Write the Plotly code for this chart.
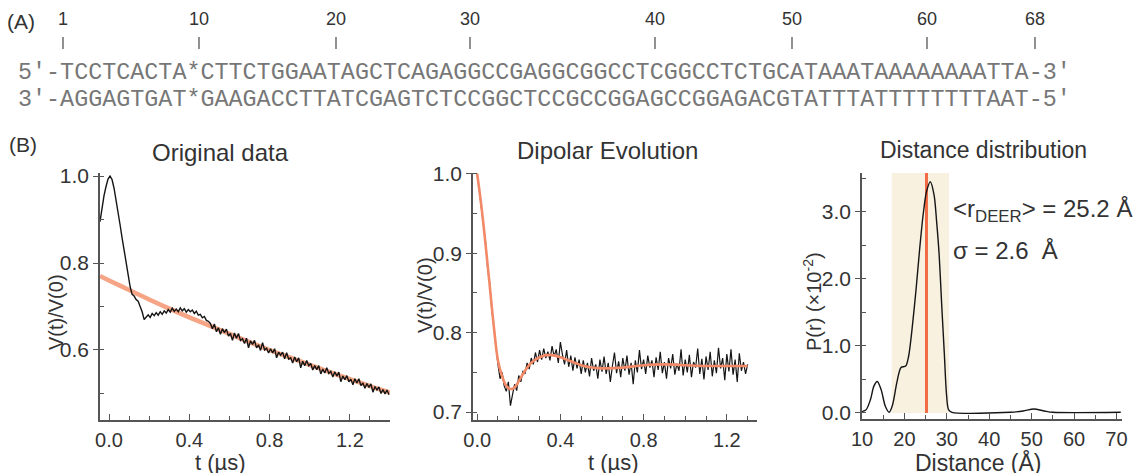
import plotly.graph_objects as go

W, H = 1133, 473

# ---------------- (A) DNA sequence ----------------
strand_top = "5'-TCCTCACTA*CTTCTGGAATAGCTCAGAGGCCGAGGCGGCCTCGGCCTCTGCATAAATAAAAAAAATTA-3'"
strand_bottom = "3'-AGGAGTGAT*GAAGACCTTATCGAGTCTCCGGCTCCGCCGGAGCCGGAGACGTATTTATTTTTTTTAAT-5'"
position_labels = ["1", "10", "20", "30", "40", "50", "60", "68"]

# ---------------- (B) Original data ----------------
orig_t0, orig_dt = -0.045, 0.01
orig_v = [
    0.895, 0.930, 0.955, 0.976, 0.993, 1.000, 0.992, 0.972, 0.946, 0.918,
    0.888, 0.858, 0.828, 0.800, 0.775, 0.746, 0.728, 0.724, 0.716, 0.712,
    0.700, 0.688, 0.670, 0.676, 0.681, 0.675, 0.684, 0.679, 0.686, 0.680,
    0.688, 0.682, 0.690, 0.685, 0.693, 0.687, 0.696, 0.689, 0.694, 0.688,
    0.697, 0.690, 0.695, 0.687, 0.693, 0.688, 0.692, 0.684, 0.689, 0.680,
    0.682, 0.674, 0.677, 0.668, 0.666,
    0.661, 0.649, 0.660, 0.642, 0.651, 0.636, 0.649, 0.640, 0.648, 0.632,
    0.638, 0.622, 0.639, 0.627, 0.638, 0.622, 0.626, 0.615, 0.627, 0.605,
    0.621, 0.613, 0.622, 0.605, 0.612, 0.599, 0.617, 0.600, 0.604, 0.593,
    0.603, 0.593, 0.603, 0.582, 0.595, 0.588, 0.595, 0.580, 0.594, 0.579,
    0.582, 0.570, 0.584, 0.573, 0.582, 0.559, 0.574, 0.564, 0.576, 0.564,
    0.569, 0.554, 0.564, 0.555, 0.564, 0.545, 0.556, 0.547, 0.559, 0.546,
    0.551, 0.538, 0.550, 0.540, 0.549, 0.527, 0.540, 0.532, 0.541, 0.527,
    0.533, 0.520, 0.534, 0.524, 0.534, 0.518, 0.524, 0.512, 0.523, 0.514,
    0.522, 0.503, 0.516, 0.508, 0.515, 0.500, 0.509, 0.499, 0.508, 0.497,
]
orig_fit_t = [-0.045, 0.0, 0.1, 0.2, 0.3, 0.4, 0.5, 0.6, 0.7, 0.8, 0.9, 1.0, 1.1, 1.2, 1.3, 1.4]
orig_fit_v = [0.770, 0.760, 0.738, 0.716, 0.695, 0.675, 0.656, 0.637, 0.618, 0.600,
              0.583, 0.566, 0.549, 0.533, 0.517, 0.502]

# ---------------- (B) Dipolar evolution ----------------
dip_t0, dip_dt = 0.0, 0.01
dip_v = [
    1.000, 0.978, 0.962, 0.933, 0.915, 0.882, 0.863, 0.830, 0.806, 0.781, 0.760,
    0.742, 0.750, 0.733, 0.726, 0.738, 0.708, 0.722, 0.735, 0.727, 0.746,
    0.738, 0.752, 0.748, 0.762, 0.754, 0.768, 0.760, 0.775, 0.763, 0.778,
    0.766, 0.780, 0.768, 0.776, 0.765, 0.783, 0.770, 0.779, 0.762, 0.788,
    0.772, 0.760, 0.778, 0.757, 0.771, 0.752, 0.769, 0.755, 0.766, 0.748,
    0.765, 0.750, 0.762, 0.745, 0.768, 0.752, 0.760, 0.742, 0.766, 0.751,
    0.770, 0.748, 0.762, 0.738, 0.758, 0.775, 0.749, 0.764, 0.744, 0.768,
    0.752, 0.771, 0.747, 0.762, 0.735, 0.765, 0.750, 0.778, 0.754, 0.766,
    0.748, 0.771, 0.756, 0.765, 0.744, 0.769, 0.753, 0.776, 0.749, 0.763,
    0.742, 0.768, 0.755, 0.773, 0.747, 0.761, 0.752, 0.779, 0.746, 0.766,
    0.750, 0.772, 0.744, 0.763, 0.756, 0.780, 0.748, 0.767, 0.741, 0.770,
    0.753, 0.776, 0.745, 0.765, 0.749, 0.781, 0.755, 0.768, 0.740, 0.773,
    0.751, 0.779, 0.747, 0.766, 0.738, 0.774, 0.752, 0.763, 0.748, 0.760,
]
dip_fit_t = [0.00, 0.02, 0.04, 0.06, 0.08, 0.10, 0.12, 0.14, 0.16, 0.18, 0.20, 0.23,
             0.26, 0.30, 0.35, 0.40, 0.45, 0.50, 0.55, 0.60, 0.70, 0.80, 0.90, 1.00,
             1.10, 1.20, 1.30]
dip_fit_v = [1.000, 0.960, 0.912, 0.860, 0.808, 0.765, 0.745, 0.733, 0.729, 0.731,
             0.739, 0.752, 0.762, 0.769, 0.772, 0.769, 0.764, 0.759, 0.756, 0.755,
             0.756, 0.759, 0.760, 0.759, 0.758, 0.758, 0.758]

# ---------------- (B) Distance distribution ----------------
dist_r = [10, 11, 12, 12.8, 13.6, 14.5, 15.5, 16.4, 17.2, 18.2, 19.2, 20.3, 21.0,
          21.8, 22.8, 23.6, 24.4, 25.2, 26.1, 27.0, 27.6, 28.2, 28.8, 29.4, 29.9,
          30.4, 31.2, 45, 48, 50.5, 53, 55, 71]
dist_p = [0.02, 0.05, 0.20, 0.40, 0.47, 0.35, 0.10, 0.01, 0.12, 0.45, 0.68, 0.70,
          0.85, 1.25, 1.88, 2.45, 2.95, 3.30, 3.45, 3.25, 2.85, 2.35, 1.60, 0.90,
          0.30, 0.05, 0.01, 0.01, 0.03, 0.06, 0.03, 0.01, 0.01]
r_mean = 25.2
r_band = [17.0, 30.5]

# ---------------- figure ----------------
FONT = "Liberation Sans"
TXT = "#333333"
AX = "#555555"


def px(x):
    return x / W


def py(y):
    return 1 - y / H


fig = go.Figure()

fig.add_trace(go.Scatter(x=orig_fit_t, y=orig_fit_v, mode="lines", line=dict(color="#f5a585", width=4.5, shape="spline"),
                         xaxis="x", yaxis="y", hoverinfo="skip"))
fig.add_trace(go.Scatter(x0=orig_t0, dx=orig_dt, y=orig_v, mode="lines", line=dict(color="#151515", width=1.4),
                         xaxis="x", yaxis="y"))

fig.add_trace(go.Scatter(x0=dip_t0, dx=dip_dt, y=dip_v, mode="lines", line=dict(color="#151515", width=1.2),
                         xaxis="x2", yaxis="y2"))
fig.add_trace(go.Scatter(x=dip_fit_t, y=dip_fit_v, mode="lines", line=dict(color="#f28a68", width=2.6, shape="spline"),
                         xaxis="x2", yaxis="y2", hoverinfo="skip"))

fig.add_trace(go.Scatter(x=dist_r, y=dist_p, mode="lines", line=dict(color="#151515", width=1.4, shape="spline", smoothing=0.8),
                         xaxis="x3", yaxis="y3"))

fig.add_shape(type="rect", xref="x3", yref="y3", x0=r_band[0], x1=r_band[1], y0=0, y1=3.58,
              fillcolor="#f8f1e0", line=dict(width=0), layer="below")
fig.add_shape(type="line", xref="x3", yref="y3", x0=r_mean, x1=r_mean, y0=0, y1=3.58,
              line=dict(color="#f26a45", width=3), layer="below")

# position tick bars above the sequence (decoration)
for xpos in [63, 199, 336, 470, 655, 792, 927, 1035]:
    fig.add_shape(type="line", xref="paper", yref="paper", x0=px(xpos), x1=px(xpos), y0=py(37), y1=py(49),
                  line=dict(color="#555555", width=1.3))

xtickfont = dict(family=FONT, size=20, color=TXT)
ytickfont = dict(family=FONT, size=21, color=TXT)
common_x = dict(showline=True, linecolor=AX, linewidth=1.5, showgrid=False, zeroline=False,
                ticks="inside", ticklen=6, tickwidth=1.3, tickcolor=AX, tickfont=xtickfont,
                ticklabelstandoff=1, mirror=False, automargin=False)
common_y = dict(showline=True, linecolor=AX, linewidth=1.5, showgrid=False, zeroline=False,
                ticks="outside", ticklen=5, tickwidth=1.3, tickcolor=AX, tickfont=ytickfont,
                ticklabelstandoff=0, mirror=False, automargin=False)

ydom = [py(420), py(173)]
fig.update_layout(
    width=W, height=H, margin=dict(l=0, r=0, t=0, b=0, pad=0, autoexpand=False),
    paper_bgcolor="white", plot_bgcolor="white", showlegend=False,
    xaxis=dict(common_x, domain=[px(100), px(390)], range=[-0.045, 1.40], tick0=0, dtick=0.4, tickformat=".1f",
               minor=dict(dtick=0.1, tick0=0, ticks="inside", ticklen=4, tickcolor=AX), anchor="y"),
    yaxis=dict(common_y, domain=ydom, range=[0.439, 1.007], tick0=0, dtick=0.2, tickformat=".1f",
               minor=dict(dtick=0.1, tick0=0, ticks="inside", ticklen=4, tickcolor=AX), anchor="x"),
    xaxis2=dict(common_x, domain=[px(473), px(757)], range=[-0.02, 1.345], tick0=0, dtick=0.4, tickformat=".1f",
                minor=dict(dtick=0.1, tick0=0, ticks="inside", ticklen=4, tickcolor=AX), anchor="y2"),
    yaxis2=dict(common_y, domain=ydom, range=[0.69, 1.001], tick0=0, dtick=0.1, tickformat=".1f",
                minor=dict(dtick=0.05, tick0=0, ticks="inside", ticklen=4, tickcolor=AX), anchor="x2"),
    xaxis3=dict(common_x, domain=[px(862), px(1122)], range=[10, 71.3], tick0=0, dtick=10,
                minor=dict(dtick=5, tick0=0, ticks="inside", ticklen=4, tickcolor=AX), anchor="y3"),
    yaxis3=dict(common_y, domain=[py(419), py(173)], range=[-0.09, 3.58], tick0=0, dtick=1.0, tickformat=".1f",
                minor=dict(dtick=0.5, tick0=0, ticks="inside", ticklen=4, tickcolor=AX), anchor="x3"),
)

ann = []


def add_text(text, x, y, size=20, color=TXT, family=FONT, xanchor="center", angle=0):
    ann.append(dict(text=text, x=px(x), y=py(y), xref="paper", yref="paper", showarrow=False,
                    xanchor=xanchor, yanchor="middle", textangle=angle,
                    font=dict(family=family, size=size, color=color)))


# (A)
add_text("(A)", 5, 21, size=21, xanchor="left")
for lab, xpos in zip(position_labels, [63, 199, 336, 470, 655, 792, 927, 1035]):
    add_text(lab, xpos, 19, size=18)
add_text(strand_top, 16, 73, size=23.4, color="#777777", family="Liberation Mono", xanchor="left")
add_text(strand_bottom, 16, 100, size=23.4, color="#777777", family="Liberation Mono", xanchor="left")

# (B)
add_text("(B)", 7, 145, size=21, xanchor="left")
add_text("Original data", 221, 152, size=24)
add_text("Dipolar Evolution", 607, 150, size=24)
add_text("Distance distribution", 983, 150, size=23)

add_text("V(t)/V(0)", 56, 312, size=20, angle=-90)
add_text("V(t)/V(0)", 425, 295, size=20, angle=-90)
add_text("P(r) (×10<sup>-2</sup>)", 812, 302, size=20, angle=-90)

add_text("t (µs)", 221, 462, size=22)
add_text("t (µs)", 613, 462, size=22)
add_text("Distance (Å)", 979, 462, size=23)

add_text("&lt;r<sub>DEER</sub>&gt; = 25.2 Å", 951, 211, size=24, xanchor="left")
add_text("σ = 2.6&nbsp; Å", 951, 250, size=24, xanchor="left")

fig.update_layout(annotations=ann)
fig.write_html("out.html", config={"displayModeBar": False},
               post_script="document.body.style.margin='0';document.body.style.overflow='hidden';")
